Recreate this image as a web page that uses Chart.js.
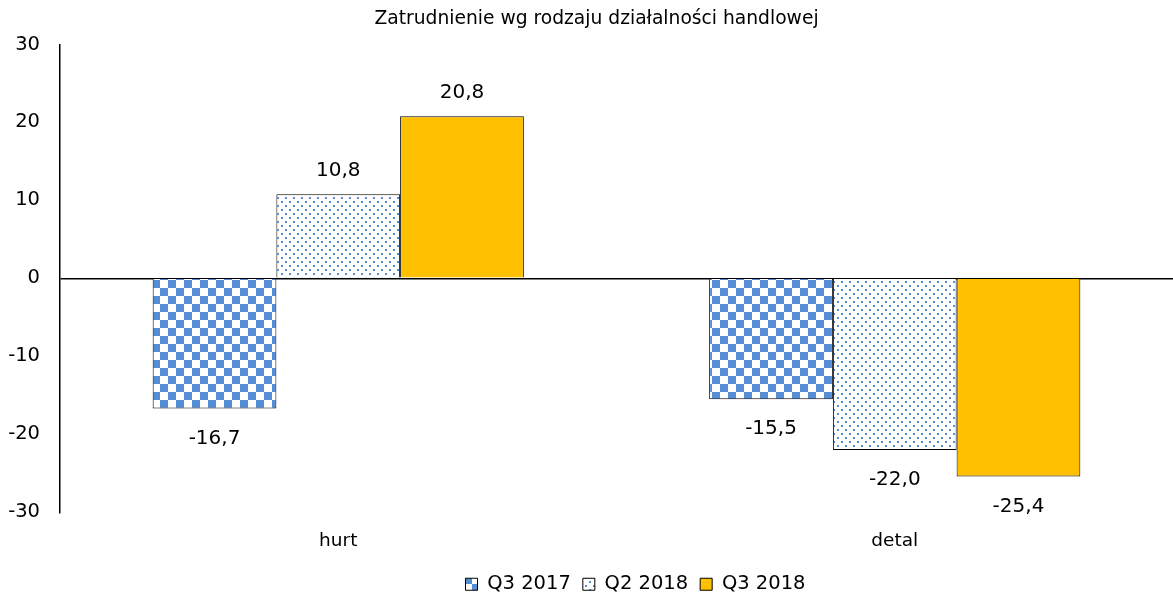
<!DOCTYPE html>
<html>
<head>
<meta charset="utf-8">
<script src="https://cdn.jsdelivr.net/npm/chart.js@4"></script>
<style>
  html, body { margin: 0; padding: 0; background: #fff; }
  #wrap { width: 1173px; height: 596px; }
</style>
</head>
<body>
<div id="wrap"><canvas id="barChart"></canvas></div>
<script>
const categories = ['hurt', 'detal'];
const seriesNames = ['Q3 2017', 'Q2 2018', 'Q3 2018'];
const q3_2017 = [-16.7, -15.5];
const q2_2018 = [10.8, -22.0];
const q3_2018 = [20.8, -25.4];
const yTicks = [-30, -20, -10, 0, 10, 20, 30];

const BLUE = '#558ed5';

function checkerPattern() {
  const c = document.createElement('canvas');
  c.width = 16; c.height = 16;
  const g = c.getContext('2d');
  g.fillStyle = '#fff';
  g.fillRect(0, 0, 16, 16);
  g.fillStyle = BLUE;
  g.fillRect(0, 0, 8, 8);
  g.fillRect(8, 8, 8, 8);
  return g.createPattern(c, 'repeat');
}

function dotPattern() {
  const c = document.createElement('canvas');
  c.width = 8; c.height = 8;
  const g = c.getContext('2d');
  g.fillStyle = '#fff';
  g.fillRect(0, 0, 8, 8);
  g.fillStyle = BLUE;
  g.fillRect(1, 1, 2, 2);
  g.fillRect(5, 5, 2, 2);
  return g.createPattern(c, 'repeat');
}

const fmt = v => v.toFixed(1).replace('.', ',');

const valueLabels = {
  id: 'valueLabels',
  afterDatasetsDraw(chart) {
    const ctx = chart.ctx;
    ctx.save();
    ctx.font = '20px "DejaVu Sans"';
    ctx.fillStyle = '#000';
    ctx.textAlign = 'center';
    ctx.textBaseline = 'middle';
    chart.data.datasets.forEach((ds, i) => {
      chart.getDatasetMeta(i).data.forEach((bar, j) => {
        const v = ds.data[j];
        const y = v >= 0 ? bar.y - 23 : bar.y + 30;
        ctx.fillText(fmt(v), bar.x, y);
      });
    });
    ctx.restore();
  }
};

// Excel puts title and legend a bit right of centre
const shiftBlocks = {
  id: 'shiftBlocks',
  afterLayout(chart) {
    chart.legend.left += 49;
    chart.legend.right += 49;
    chart.titleBlock.left += 10;
    chart.titleBlock.right += 10;
  }
};

Chart.defaults.font.family = '"DejaVu Sans", sans-serif';
Chart.defaults.color = '#000';

new Chart(document.getElementById('barChart'), {
  type: 'bar',
  data: {
    labels: categories,
    datasets: [
      { label: seriesNames[0], data: q3_2017, backgroundColor: checkerPattern(), borderColor: '#000', borderWidth: 1 },
      { label: seriesNames[1], data: q2_2018, backgroundColor: dotPattern(), borderColor: '#000', borderWidth: 1 },
      { label: seriesNames[2], data: q3_2018, backgroundColor: '#ffc000', borderColor: '#000', borderWidth: 1 }
    ]
  },
  options: {
    responsive: true,
    maintainAspectRatio: false,
    animation: false,
    layout: { padding: { left: 0, right: 0, top: 0, bottom: -8 } },
    datasets: { bar: { barPercentage: 1, categoryPercentage: 0.667 } },
    scales: {
      x: {
        grid: { display: false },
        border: { display: false },
        ticks: { font: { size: 18.5 }, padding: 10 }
      },
      y: {
        min: -30, max: 30,
        afterBuildTicks: axis => { axis.ticks = yTicks.map(v => ({ value: v })); },
        afterFit: axis => { axis.width = 60; },
        grid: {
          color: c => c.tick && c.tick.value === 0 ? '#000' : 'rgba(0,0,0,0)',
          lineWidth: 1.5,
          drawTicks: false
        },
        border: { display: true, color: '#000', width: 1.5 },
        ticks: { font: { size: 19.5 }, padding: 20 }
      }
    },
    plugins: {
      title: {
        display: true,
        text: 'Zatrudnienie wg rodzaju działalności handlowej',
        font: { size: 18.7, weight: 'normal' },
        color: '#000',
        padding: { top: 8, bottom: 14 }
      },
      legend: {
        position: 'bottom',
        labels: { boxWidth: 12, boxHeight: 12, padding: 12, font: { size: 19.5 } }
      },
      tooltip: { enabled: false }
    }
  },
  plugins: [valueLabels, shiftBlocks]
});
</script>
</body>
</html>
